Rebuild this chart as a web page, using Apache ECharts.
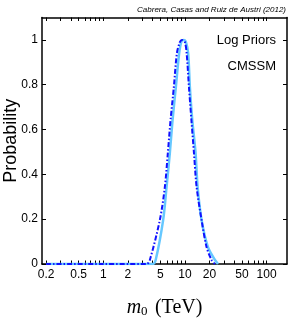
<!DOCTYPE html>
<html>
<head>
<meta charset="utf-8">
<script src="https://cdn.jsdelivr.net/npm/echarts@6/dist/echarts.min.js"></script>
<style>html,body{margin:0;padding:0;background:#fff}#c{width:291px;height:318px}</style>
</head>
<body>
<div id="c"></div>
<script>
// m0 in TeV, probability
const solidM0 = [0.2, 1, 3, 4.05, 4.4, 5.41, 5.96, 6.54, 7.06, 7.75, 8.5, 9.1, 9.7, 10.3, 10.96, 11.5, 12.3, 13.5, 14.3, 16.0, 19.1, 23.3, 25.4];
const solidProb = [0, 0, 0, 0, 0.02, 0.196, 0.344, 0.496, 0.643, 0.79, 0.94, 0.995, 1.0, 0.99, 0.94, 0.79, 0.643, 0.496, 0.344, 0.196, 0.076, 0.018, 0];
const dashM0 = [0.2, 1, 3, 3.42, 3.72, 4.93, 5.68, 6.18, 6.67, 7.32, 7.97, 8.67, 9.2, 9.98, 10.5, 11.2, 12.0, 12.9, 13.9, 16.0, 18.4, 21.2, 23.3];
const dashProb = [0, 0, 0, 0, 0.018, 0.196, 0.344, 0.496, 0.643, 0.79, 0.94, 0.99, 1.0, 0.99, 0.94, 0.79, 0.643, 0.496, 0.344, 0.196, 0.076, 0.018, 0];
const xTickLabels = [0.2, 0.5, 1, 2, 5, 10, 20, 50, 100];
const xMinorTicks = [0.2, 0.3, 0.4, 0.5, 0.6, 0.7, 0.8, 0.9, 1, 2, 3, 4, 5, 6, 7, 8, 9, 10, 20, 30, 40, 50, 60, 70, 80, 90, 100];
const yTicks = [0, 0.2, 0.4, 0.6, 0.8, 1];

const lg = v => Math.log10(v);
const xMin = -0.75, xMax = 2.25;

const chart = echarts.init(document.getElementById('c'), null, {renderer: 'canvas'});
const fontS = '"Liberation Sans", Arial, Helvetica, sans-serif';
const grid = {left: 42, right: 4, top: 17.5, bottom: 54, containLabel: false, outerBoundsMode: 'none'};
const xCommon = {
  type: 'value', min: xMin, max: xMax,
  axisLine: {show: true, onZero: false, lineStyle: {color: '#000', width: 1.5}},
  splitLine: {show: false},
  axisTick: {show: true, inside: true, length: 3.5, lineStyle: {color: '#000', width: 1}, customValues: xMinorTicks.map(lg)},
};
const yCommon = {
  type: 'value', min: 0, max: 1.1,
  axisLine: {show: true, onZero: false, lineStyle: {color: '#000', width: 1.5}},
  splitLine: {show: false},
  axisTick: {show: true, inside: true, length: 4, lineStyle: {color: '#000', width: 1}, customValues: yTicks},
};
chart.setOption({
  animation: false,
  backgroundColor: '#fff',
  grid: grid,
  title: {
    text: 'Cabrera, Casas and Ruiz de Austri (2012)',
    right: 0, top: 1,
    textStyle: {fontFamily: fontS, fontStyle: 'italic', fontWeight: 'normal', fontSize: 8, color: '#000'}
  },
  xAxis: [
    Object.assign({}, xCommon, {
      position: 'bottom',
      axisLabel: {show: true, color: '#000', fontFamily: fontS, fontSize: 12, margin: 5,
        customValues: xTickLabels.map(lg),
        formatter: v => String(Number(Math.pow(10, v).toPrecision(3)))},
      name: '{m|m}{s|0} {t|(TeV)}',
      nameLocation: 'middle', nameGap: 33, nameMoveOverlap: false,
      nameTextStyle: {rich: {
        m: {fontFamily: '"Liberation Serif", "DejaVu Serif", serif', fontStyle: 'italic', fontSize: 20, color: '#000'},
        s: {fontFamily: '"Liberation Serif", "DejaVu Serif", serif', fontSize: 13, color: '#000', verticalAlign: 'bottom', padding: [8, 0, 0, 0]},
        t: {fontFamily: '"Liberation Serif", "DejaVu Serif", serif', fontSize: 20, color: '#000', padding: [0, 0, 0, 4]}
      }}
    }),
    Object.assign({}, xCommon, {position: 'top', axisLabel: {show: false}})
  ],
  yAxis: [
    Object.assign({}, yCommon, {
      position: 'left',
      axisLabel: {show: true, color: '#000', fontFamily: fontS, fontSize: 12, margin: 4,
        customValues: yTicks, formatter: v => String(v)},
      name: 'Probability', nameLocation: 'middle', nameGap: 22, nameMoveOverlap: false,
      nameTextStyle: {fontFamily: fontS, fontSize: 18, color: '#000'}
    }),
    Object.assign({}, yCommon, {position: 'right', axisLabel: {show: false}})
  ],
  graphic: [
    {type: 'text', right: 15, top: 34, style: {text: 'Log Priors', font: '13px "Liberation Sans", Arial, sans-serif', fill: '#000'}},
    {type: 'text', right: 15, top: 60, style: {text: 'CMSSM', font: '13px "Liberation Sans", Arial, sans-serif', fill: '#000'}}
  ],
  series: [
    {
      type: 'line', xAxisIndex: 0, yAxisIndex: 0, showSymbol: false, smooth: 0.3,
      data: solidM0.map((m, i) => [lg(m), solidProb[i]]),
      lineStyle: {color: '#66c8ff', width: 2.5, type: 'solid'}
    },
    {
      type: 'line', xAxisIndex: 0, yAxisIndex: 0, showSymbol: false, smooth: 0.3,
      data: dashM0.map((m, i) => [lg(m), dashProb[i]]),
      lineStyle: {color: '#1010ff', width: 2, type: [5, 2, 1.5, 2]}
    }
  ]
});
</script>
</body>
</html>
